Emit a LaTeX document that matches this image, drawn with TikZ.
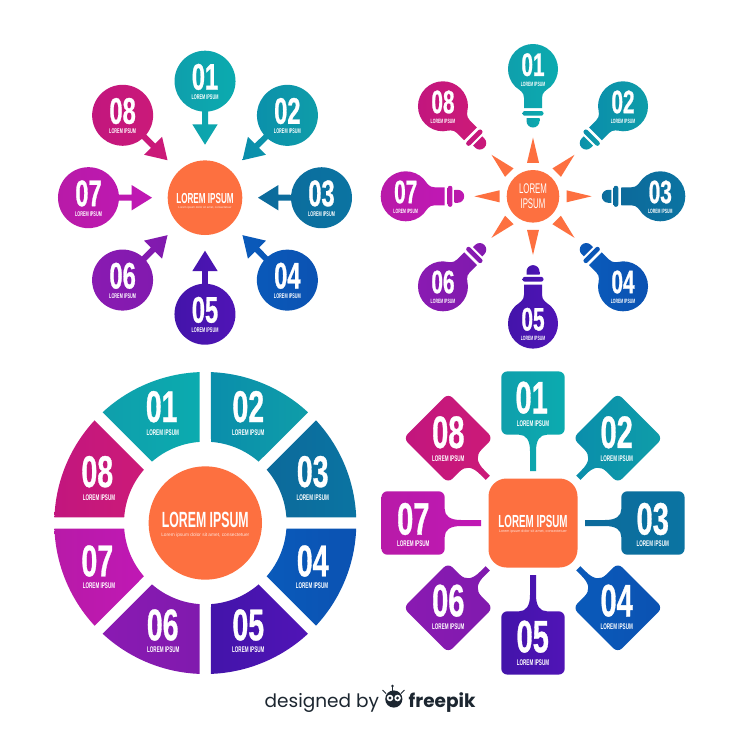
\documentclass[tikz,border=0pt]{standalone}
\usepackage{fontspec}
\setmainfont{Liberation Sans}
\newfontfamily\nf[FakeStretch=.64,FakeBold=.7]{Liberation Sans}
\newfontfamily\lf[FakeStretch=.56]{Liberation Sans}
\newfontfamily\pf{Poppins}
\definecolor{cA1}{HTML}{0F9FAC}\definecolor{cB1}{HTML}{0BABAF}
\definecolor{cA2}{HTML}{0A8EAB}\definecolor{cB2}{HTML}{0F9DA9}
\definecolor{cA3}{HTML}{0C6A9B}\definecolor{cB3}{HTML}{0B74A2}
\definecolor{cA4}{HTML}{0A5ABA}\definecolor{cB4}{HTML}{0B52B2}
\definecolor{cA5}{HTML}{4314AA}\definecolor{cB5}{HTML}{5014B6}
\definecolor{cA6}{HTML}{8A1AB2}\definecolor{cB6}{HTML}{801AAE}
\definecolor{cA7}{HTML}{B81AA8}\definecolor{cB7}{HTML}{C018B4}
\definecolor{cA8}{HTML}{C2167E}\definecolor{cB8}{HTML}{CC1A78}
\definecolor{orng}{HTML}{FD7040}
\definecolor{ink}{HTML}{1C2630}
\newcommand\dfont[1]{\nf\bfseries\fontsize{#1}{#1}\selectfont}
\newcommand\lfont[1]{\lf\bfseries\fontsize{#1}{#1}\selectfont}
\tikzset{
  txt/.style={text=white,inner sep=0pt,anchor=center},
  hub/.style={circle,fill=orng,inner sep=0pt,minimum size=#1},
  ray/.style={fill=orng},
}
\begin{document}
\begin{tikzpicture}[x=1pt,y=1pt]
\useasboundingbox (0,0) rectangle (740,-740);
\fill[white] (0,0) rectangle (740,-740);

% ---- panel A: pins with arrows
\begin{scope}[shift={(205,-197.7)}]
\node[hub=74.6pt] (ahub) at (0,0) {};
\node[txt,font=\lfont{14.5}] (ahubt) at (0,-0.6) {LOREM IPSUM};
\node[txt,text=white!85!orng,font=\fontsize{2.9}{3}\selectfont] (ahubs) at (0,-10) {Lorem ipsum dolor sit amet, consectetuer};
\foreach \i/\n [evaluate=\i as \r using {-45*(\i-1)}] in {1/01,2/02,3/03,4/04,5/05,6/06,7/07,8/08}{
  \begin{scope}[rotate=\r]
  \shade[left color=cA\i,right color=cB\i]
    (0,53) -- (12.7,73.4) -- (3,73.4) -- (3,86.15)
    arc[start angle=-84.4,end angle=264.4,radius=30.5pt]
    -- (-3,73.4) -- (-12.7,73.4) -- cycle;
  \end{scope}
  \path (90+\r:116.5pt) coordinate (ac\i);
  \node[txt,font=\dfont{37}] (ad\i) at ([yshift=4.3pt]ac\i) {\n};
  \node[txt,font=\lfont{6.8}] (al\i) at ([yshift=-16.3pt]ac\i) {LOREM IPSUM};
}
\end{scope}

% ---- panel B: light bulbs
\begin{scope}[shift={(533,-196.3)}]
\node[hub=52.6pt] (bhub) at (0,0) {};
\node[txt,font=\lf\fontsize{14}{14}\selectfont] (bhub1) at (0,7.6) {LOREM};
\node[txt,font=\lf\fontsize{14}{14}\selectfont] (bhub2) at (0,-7.8) {IPSUM};
\foreach \i/\n [evaluate=\i as \r using {-45*(\i-1)}] in {1/01,2/02,3/03,4/04,5/05,6/06,7/07,8/08}{
  \begin{scope}[rotate=\r]
  \fill[ray] (0,58.7) -- (6,33.5) -- (-6,33.5) -- cycle;
  \begin{scope}[shift={(0,127.3)}]
  \shade[left color=cA\i,right color=cB\i]
    (9,-39) -- (9,-29) .. controls (9,-23) and (13,-21.5) .. (-45:25pt)
    arc[start angle=-45,end angle=225,radius=25pt]
    .. controls (-13,-21.5) and (-9,-23) .. (-9,-29) -- (-9,-39) -- cycle;
  \shade[left color=cA\i,right color=cB\i,rounded corners=2.2pt]
    (-10.5,-42) rectangle (10.5,-46.7);
  \shade[left color=cA\i,right color=cB\i]
    (-6.5,-49) -- (6.5,-49) -- (6.5,-52) arc[start angle=0,end angle=-180,radius=6.5pt] -- cycle;
  \end{scope}
  \end{scope}
  \path (90+\r:127.3pt) coordinate (bc\i);
  \node[txt,font=\dfont{32.5}] (bd\i) at ([yshift=4.3pt]bc\i) {\n};
  \node[txt,font=\lfont{6.2}] (bl\i) at ([yshift=-15pt]bc\i) {LOREM IPSUM};
}
\end{scope}

% ---- panel C: wheel
\begin{scope}[shift={(205.3,-523)}]
\node[hub=113.4pt] (chub) at (0,0) {};
\node[txt,font=\lfont{22}] (chubt) at (0,2.7) {LOREM IPSUM};
\node[txt,text=white!80!orng,font=\fontsize{4.8}{5}\selectfont] (chubs) at (0,-12) {Lorem ipsum dolor sit amet, consectetuer};
\foreach \i [evaluate=\i as \a using {135-45*\i}] in {1,...,8}{
  \shade[left color=cA\i,right color=cB\i]
    (\a+2.16:151pt) arc[start angle=\a+2.16,end angle=\a+42.84,radius=151pt]
    -- (\a+40.98:81.3pt) arc[start angle=\a+40.98,end angle=\a+4.02,radius=81.3pt] -- cycle;
}
\end{scope}
\foreach \i/\n/\x/\y/\lx/\ly in {1/01/161.7/406.7/162.7/432.3,2/02/248.3/406.7/248.3/432.3,3/03/312.7/471.7/312.7/497.7,4/04/312.7/561/312/586,5/05/248.3/625/248.3/650,6/06/162.7/625/163.3/650,7/07/97.3/561/99/586,8/08/97.3/471.7/99/497.7}{
  \node[txt,font=\dfont{44.5}] (cd\i) at (\x,-\y) {\n};
  \node[txt,font=\lfont{8.2}] (cl\i) at (\lx,-\ly) {LOREM IPSUM};
}

% ---- panel D: rounded tags
\begin{scope}[shift={(533,-523)}]
\fill[orng,rounded corners=18pt] (-44.5,-44.5) rectangle (44.5,44.5);
\node[txt,font=\lfont{17.5}] (dhubt) at (0,2) {LOREM IPSUM};
\node[txt,text=white!80!orng,font=\fontsize{3.7}{4}\selectfont] (dhubs) at (0,-9) {Lorem ipsum dolor sit amet, consectetuer};
\foreach \i/\e/\f [evaluate=\i as \r using {-45*(\i-1)}] in {1/52/14,2/64/16,3/52/14,4/64/16,5/52/14,6/64/16,7/52/14,8/64/16}{
  \begin{scope}[rotate=\r]
  \shade[left color=cA\i,right color=cB\i]
    (3,\e) -- (3,72) .. controls (3,83) and (7,88.3) .. (\f,88.3)
    [rounded corners=6pt] -- (31.7,88.3) -- (31.7,151.6) -- (-31.7,151.6) -- (-31.7,88.3) [sharp corners]
    -- (-\f,88.3) .. controls (-7,88.3) and (-3,83) .. (-3,72) -- (-3,\e) -- cycle;
  \end{scope}
}
\end{scope}
\foreach \i/\n/\x/\y/\lx/\ly in {1/01/531.7/397.7/533/424,2/02/616.7/432.3/616.7/458.3,3/03/652.7/519/652.7/544,4/04/616.7/600.7/616.7/626.7,5/05/532.7/636.7/533/662.3,6/06/448.3/600.7/448.3/626.7,7/07/413.3/519/413.3/544,8/08/448.3/432.3/448.3/458.3}{
  \node[txt,font=\dfont{45.5}] (dd\i) at (\x,-\y) {\n};
  \node[txt,font=\lfont{8.2}] (dl\i) at (\lx,-\ly) {LOREM IPSUM};
}

% ---- footer
\node[txt,text=ink,anchor=mid west,font=\pf\fontsize{18.5}{18.5}\selectfont] (fd) at (264.5,-705) {designed by};
\node[txt,text=ink,anchor=mid west,font=\pf\bfseries\fontsize{18.5}{18.5}\selectfont] (fp) at (408.5,-705) {freepik};
\fill[ink] (393.8,-699) circle[radius=8.6pt];
\fill[white] (390,-698) circle[radius=3.3pt];
\fill[white] (397.6,-698) circle[radius=3.3pt];
\fill[ink] (390,-698) circle[radius=1.6pt];
\fill[ink] (397.6,-698) circle[radius=1.6pt];
\fill[ink] (392.5,-686) circle[radius=1.4pt];
\draw[ink,line width=1pt] (392.5,-686) -- (392.5,-691);
\draw[ink,line width=1pt] (382.5,-690) -- (386,-693.5);
\draw[ink,line width=1pt] (404.5,-690) -- (401,-693.5);
\end{tikzpicture}
\end{document}
